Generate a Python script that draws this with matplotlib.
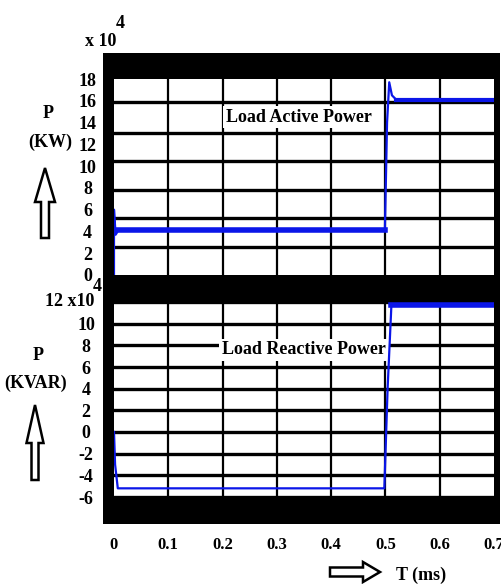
import matplotlib
matplotlib.use('Agg')
import matplotlib.pyplot as plt
import matplotlib.patches as patches

plt.rcParams['font.family'] = ['Liberation Serif', 'DejaVu Serif']
plt.rcParams['font.weight'] = 'bold'

# time axis (ms) and tick labels
x_ticks = [0, 0.1, 0.2, 0.3, 0.4, 0.5, 0.6, 0.7]
x_labels = ['0', '0.1', '0.2', '0.3', '0.4', '0.5', '0.6', '0.7']

# load active power (x 10^4 kW)
t_active = [0, 0.0, 0.003, 0.008, 0.02, 0.499, 0.503, 0.507, 0.512, 0.52, 0.7]
p_active = [0, 6.0, 3.7, 4.1, 4.1, 4.1, 14.0, 17.7, 16.5, 16.1, 16.1]
active_ticks = [0, 2, 4, 6, 8, 10, 12, 14, 16, 18]
active_grid = [2.6, 5.2, 7.8, 10.5, 13.0, 15.9]

# load reactive power (x 10^4 kVAR)
t_reactive = [0, 0.002, 0.007, 0.498, 0.504, 0.511, 0.7]
q_reactive = [0, -3.0, -5.2, -5.2, 4.0, 11.7, 11.7]
reactive_ticks = [-6, -4, -2, 0, 2, 4, 6, 8, 10, 12]
reactive_labels = ['-6', '-4', '-2', '0', '2', '4', '6', '8', '10', '']

W, H = 502, 584
fig = plt.figure(figsize=(W / 100, H / 100), dpi=100)

def fx(px):
    return px / W

def fy(py):
    return 1 - py / H

# black frame behind both panels
fig.patches.append(patches.Rectangle((fx(103), fy(524)), fx(500) - fx(103), fy(53) - fy(524),
                                     transform=fig.transFigure, facecolor='black', zorder=-5))

ax1 = fig.add_axes([fx(114), fy(275), fx(494) - fx(114), fy(79) - fy(275)])
ax2 = fig.add_axes([fx(114), fy(497), fx(494) - fx(114), fy(302) - fy(497)])

blue = '#0b16e8'

for ax in (ax1, ax2):
    ax.set_facecolor('white')
    for s in ax.spines.values():
        s.set_visible(False)
    ax.set_xlim(0, 0.7)
    ax.set_xticks(x_ticks)
    for xv in x_ticks[1:-1]:
        ax.axvline(xv, color='black', lw=1.6, zorder=1)

# top panel
ax1.set_ylim(0, 18)
ax1.set_yticks(active_ticks)
ax1.set_yticklabels([str(v) for v in active_ticks], ha='center')
for gv in active_grid:
    ax1.axhline(gv, color='black', lw=2.4, zorder=1)
ax1.tick_params(axis='y', length=0, pad=19, labelsize=13)
ax1.tick_params(axis='x', length=0, labelbottom=False)
ax1.plot(t_active, p_active, color=blue, lw=1.6, zorder=3)
ax1.plot(t_active[3:6], p_active[3:6], color=blue, lw=4, zorder=3)
ax1.plot(t_active[-2:], p_active[-2:], color=blue, lw=3, zorder=3)
ax1.text(0.487, 0.806, 'Load Active Power', transform=ax1.transAxes, ha='center', va='center',
         fontsize=13, fontweight='bold', zorder=2,
         bbox=dict(facecolor='white', edgecolor='none', pad=2))

# bottom panel
ax2.set_ylim(-6, 12)
ax2.set_yticks(reactive_ticks)
ax2.set_yticklabels(reactive_labels, ha='center')
ax2.grid(axis='y', color='black', lw=2.4, zorder=1)
ax2.set_axisbelow(True)
ax2.tick_params(axis='y', length=0, pad=20, labelsize=13)
ax2.set_xticklabels(x_labels)
ax2.tick_params(axis='x', length=0, pad=29, labelsize=12)
ax2.plot(t_reactive, q_reactive, color=blue, lw=1.6, zorder=3)
ax2.plot(t_reactive[-2:], q_reactive[-2:], color=blue, lw=4, zorder=3)
ax2.text(0.5, 0.754, 'Load Reactive Power', transform=ax2.transAxes, ha='center', va='center',
         fontsize=13, fontweight='bold', zorder=2,
         bbox=dict(facecolor='white', edgecolor='none', pad=2))

# labels around the panels
fig.text(fx(101), fy(42), 'x 10', ha='center', va='center', fontsize=13)
fig.text(fx(120), fy(23), '4', ha='center', va='center', fontsize=13)
fig.text(fx(94), fy(302), '12 x10', ha='right', va='center', fontsize=13)
fig.text(fx(97), fy(286), '4', ha='center', va='center', fontsize=13)
fig.text(fx(48), fy(113), 'P', ha='center', va='center', fontsize=13)
fig.text(fx(50), fy(142), '(KW)', ha='center', va='center', fontsize=13)
fig.text(fx(38), fy(355), 'P', ha='center', va='center', fontsize=13)
fig.text(fx(36), fy(383), '(KVAR)', ha='center', va='center', fontsize=13)
fig.text(fx(421), fy(575), 'T (ms)', ha='center', va='center', fontsize=13)

# hollow arrows (inch coordinates)
def arrow(x0, y0, x1, y1, width, head_width, head_length):
    a = patches.FancyArrow(x0 / 100, (H - y0) / 100, (x1 - x0) / 100, -(y1 - y0) / 100,
                           width=width / 100, head_width=head_width / 100,
                           head_length=head_length / 100, length_includes_head=True,
                           facecolor='white', edgecolor='black', lw=1.8,
                           transform=fig.dpi_scale_trans)
    fig.patches.append(a)

arrow(45, 238, 45, 168, 8, 20, 34)
arrow(35, 480, 35, 405, 7, 17, 38)
arrow(330, 572, 380, 572, 9, 20, 17)

fig.savefig('out.png', dpi=100)
